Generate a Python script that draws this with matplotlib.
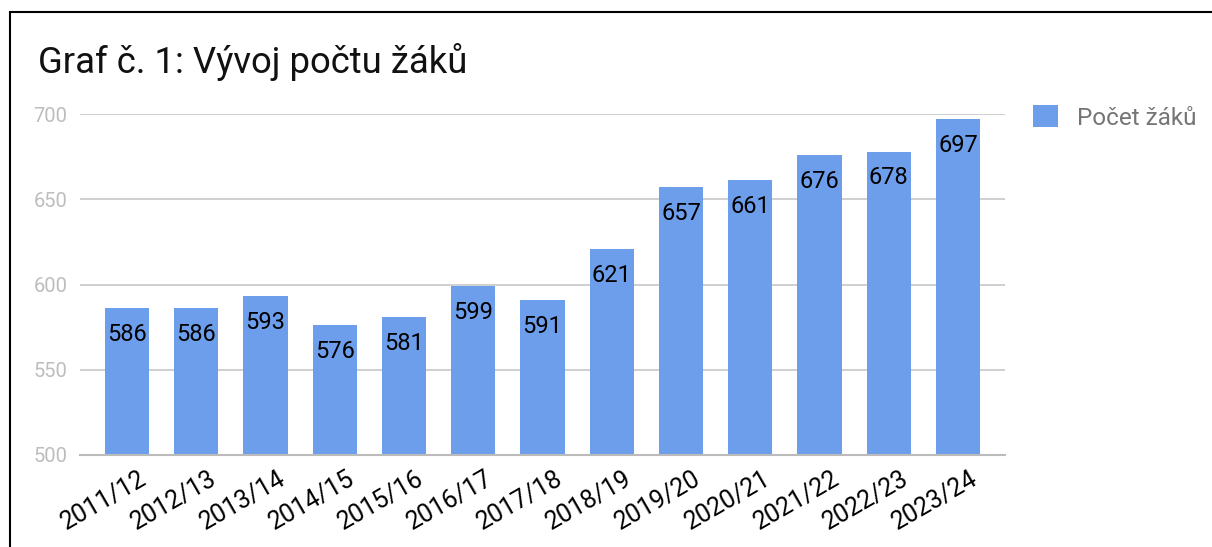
import matplotlib
matplotlib.use("Agg")
import matplotlib.pyplot as plt
import matplotlib.transforms as mtransforms
from matplotlib.patches import Rectangle

plt.rcParams['font.family'] = ['Roboto', 'DejaVu Sans']

years = ["2011/12", "2012/13", "2013/14", "2014/15", "2015/16", "2016/17", "2017/18",
         "2018/19", "2019/20", "2020/21", "2021/22", "2022/23", "2023/24"]
pupils = [586, 586, 593, 576, 581, 599, 591, 621, 657, 661, 676, 678, 697]
y_ticks = [500, 550, 600, 650, 700]

BAR_COLOR = "#6d9eeb"

fig = plt.figure(figsize=(12.12, 5.47), dpi=100)
ax = fig.add_axes([80 / 1212, 1 - 455 / 547, 925 / 1212, 341 / 547])

x = list(range(len(years)))
ax.bar(x, [p - 500 for p in pupils], bottom=500, width=0.64, color=BAR_COLOR,
       label="Počet žáků", zorder=2)

for xi, p in zip(x, pupils):
    ax.annotate(str(p), (xi, p), xytext=(0, -19), textcoords="offset points",
                ha="center", va="center", fontsize=17, color="black", zorder=3)

ax.set_xlim(-0.68, len(years) - 1 + 0.68)
ax.set_ylim(500, 700)
ax.set_yticks(y_ticks)
ax.set_yticklabels([str(t) for t in y_ticks], color="#bdbdbd", fontsize=14.5)
ax.grid(axis="y", color="#cccccc", linewidth=1.3, zorder=1)
ax.tick_params(axis="y", length=0, pad=9)
ax.tick_params(axis="x", length=0, pad=8)

ax.set_xticks(x)
ax.set_xticklabels(years, rotation=30, ha="right", rotation_mode="anchor",
                   fontsize=18, color="black")
offset = mtransforms.ScaledTranslation(12 / 100, 0, fig.dpi_scale_trans)
for lbl in ax.get_xticklabels():
    lbl.set_transform(lbl.get_transform() + offset)

for s in ["top", "right", "left"]:
    ax.spines[s].set_visible(False)
ax.spines["bottom"].set_color("#bbbbbb")
ax.spines["bottom"].set_linewidth(1.5)

fig.text(38 / 1212, 1 - 62 / 547, "Graf č. 1: Vývoj počtu žáků", fontsize=26.3,
         color="#111111", ha="left", va="center")

leg = ax.legend(loc="center left", bbox_to_anchor=(1.007, 0.99), frameon=False,
                fontsize=17.5, handlelength=1.0, handleheight=1.0, handletextpad=0.8)
for t in leg.get_texts():
    t.set_color("#757575")

fig.patches.append(Rectangle((10 / 1212, -0.1), 1.2, 1.1 - 12 / 547, fill=False,
                             edgecolor="black", linewidth=1.5,
                             transform=fig.transFigure, figure=fig))

fig.savefig("out.png", dpi=100)
